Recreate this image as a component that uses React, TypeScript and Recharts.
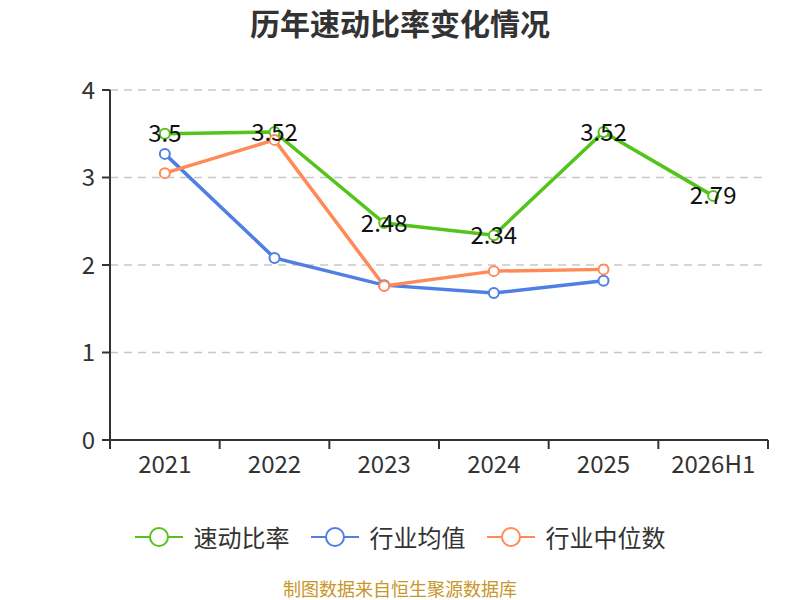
import { LineChart, Line, XAxis, YAxis, CartesianGrid, LabelList } from "recharts";

const years = ["2021", "2022", "2023", "2024", "2025", "2026H1"];
const quickRatio = [3.5, 3.52, 2.48, 2.34, 3.52, 2.79];
const industryMean = [3.27, 2.08, 1.77, 1.68, 1.82, null];
const industryMedian = [3.05, 3.43, 1.76, 1.93, 1.95, null];
const yTicks = [0, 1, 2, 3, 4];

const series = [
  { key: "quick", name: "速动比率", color: "#52C41A" },
  { key: "mean", name: "行业均值", color: "#4F7FE4" },
  { key: "median", name: "行业中位数", color: "#FF8A57" },
];

// each year sits in the middle of its band on a 0..6 numeric axis
const data = years.map((year, i) => ({
  year,
  x: i + 0.5,
  quick: quickRatio[i],
  mean: industryMean[i],
  median: industryMedian[i],
}));

const bandEdges = years.map((_, i) => i).concat(years.length);
const bandCenters = years.map((_, i) => i + 0.5);

const font = '"Noto Sans CJK SC", "Noto Sans", sans-serif';

const LegendIcon = ({ color }: { color: string }) => (
  <svg width={48} height={22} style={{ marginRight: 11 }}>
    <line x1={0} y1={11} x2={48} y2={11} stroke={color} strokeWidth={2} />
    <circle cx={24} cy={11} r={9} fill="#fff" stroke={color} strokeWidth={2} />
  </svg>
);

export default function App() {
  return (
    <div style={{ position: "relative", width: 800, height: 600, fontFamily: font, background: "#fff" }}>
      <style>{`body{margin:0}`}</style>
      <div
        style={{
          position: "absolute",
          top: 2,
          width: 800,
          textAlign: "center",
          fontSize: 30,
          fontWeight: 700,
          color: "#333",
          lineHeight: "40px",
        }}
      >
        历年速动比率变化情况
      </div>
      <LineChart width={800} height={600} data={data} margin={{ top: 90, right: 32, left: 50, bottom: 110 }}>
        <CartesianGrid
          xAxisId="a"
          vertical={false}
          stroke="#c8c8c8"
          strokeDasharray="8 6"
          strokeWidth={1.5}
        />
        <XAxis
          xAxisId="a"
          type="number"
          dataKey="x"
          domain={[0, years.length]}
          ticks={bandEdges}
          interval={0}
          tickFormatter={() => ""}
          tickLine={{ stroke: "#333", strokeWidth: 2 }}
          height={8}
          stroke="#333"
          strokeWidth={2}
          tickSize={9}
        />
        <XAxis
          xAxisId="b"
          type="number"
          dataKey="x"
          domain={[0, years.length]}
          ticks={bandCenters}
          interval={0}
          tickFormatter={(v: number) => years[Math.floor(v)]}
          axisLine={false}
          tickLine={false}
          height={42}
          tickSize={0}
          tickMargin={8}
          tick={{ fontSize: 24, fill: "#333", fontFamily: font }}
        />
        <YAxis
          domain={[0, 4]}
          ticks={yTicks}
          width={60}
          stroke="#333"
          strokeWidth={2}
          tickSize={8}
          tickMargin={7}
          tick={{ fontSize: 24, fill: "#333", fontFamily: font }}
        />
        {series.map((s) => (
          <Line
            key={s.key}
            xAxisId="a"
            dataKey={s.key}
            name={s.name}
            stroke={s.color}
            strokeWidth={3.5}
            dot={{ r: 5, fill: "#fff", stroke: s.color, strokeWidth: 2 }}
            activeDot={false}
            isAnimationActive={false}
          >
            {s.key === "quick" && (
              <LabelList dataKey="quick" position="center" fontSize={24} fill="#111" fontFamily={font} />
            )}
          </Line>
        ))}
      </LineChart>
      <div
        style={{
          position: "absolute",
          top: 520,
          width: 800,
          display: "flex",
          justifyContent: "center",
          gap: 21,
          fontSize: 24,
          color: "#333",
          lineHeight: "34px",
        }}
      >
        {series.map((s) => (
          <div key={s.key} style={{ display: "flex", alignItems: "center" }}>
            <LegendIcon color={s.color} />
            <span>{s.name}</span>
          </div>
        ))}
      </div>
      <div
        style={{
          position: "absolute",
          top: 576,
          width: 800,
          textAlign: "center",
          fontSize: 18,
          color: "#C8962A",
          lineHeight: "24px",
        }}
      >
        制图数据来自恒生聚源数据库
      </div>
    </div>
  );
}
